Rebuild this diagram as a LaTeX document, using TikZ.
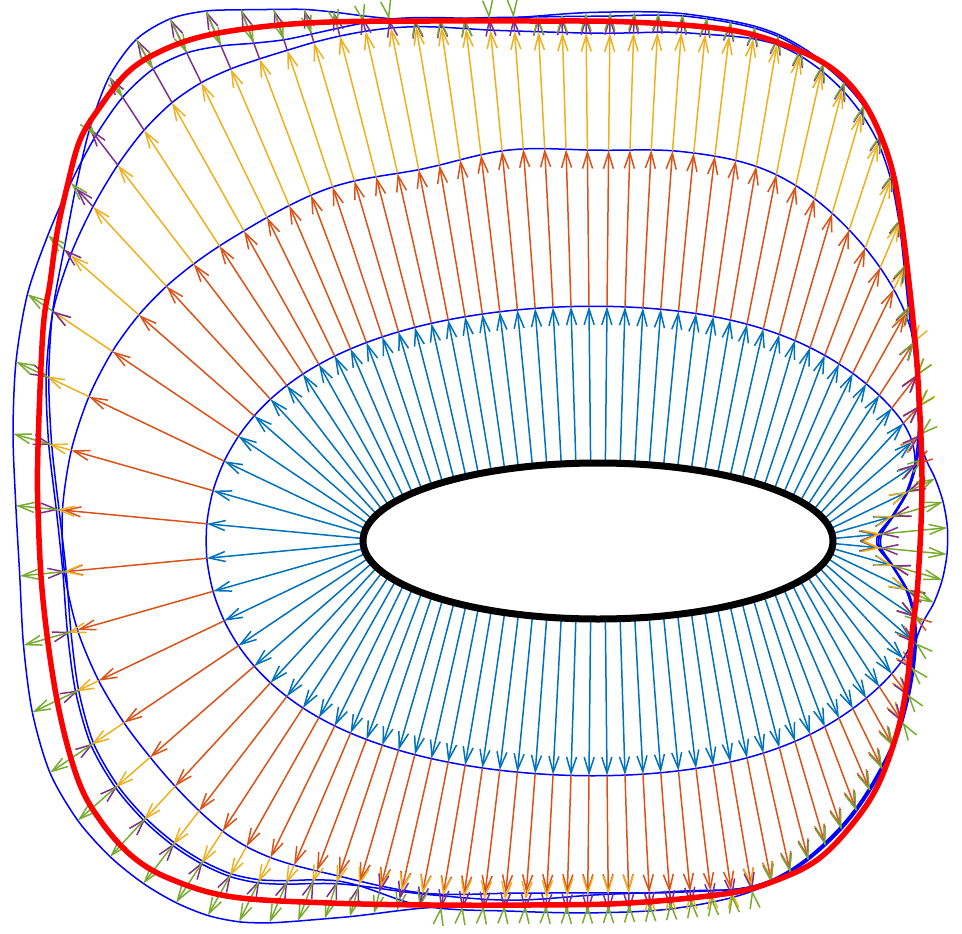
\documentclass[tikz,border=0pt]{standalone}
\usepackage{tikz}
\usetikzlibrary{arrows.meta}
\definecolor{qblue}{HTML}{0072BD}
\definecolor{qorange}{HTML}{D95319}
\definecolor{qyellow}{HTML}{EDB120}
\definecolor{qpurple}{HTML}{7E2F8E}
\definecolor{qgreen}{HTML}{77AC30}
% extra travel of each front beyond the first one, every 15 degrees
\def\tabB{{2,4,78,124,153,159,156,160,153,158,153,153,144,138,148,138,133,121,117,121,125,97,51,1}}
\def\tabC{{4,6,82,216,275,278,273,280,297,302,299,238,146,183,183,146,134,128,119,120,126,98,52,2}}
\def\tabD{{2,7,84,224,282,294,290,293,306,345,371,243,143,180,180,143,146,139,137,136,128,99,53,3}}
\def\tabE{{72,9,86,226,284,296,294,292,306,313,338,268,188,233,228,183,148,133,129,129,128,100,54,4}}
\newcommand\getd[2]{%
  \pgfmathsetmacro\qa{#1[\ka]}\pgfmathsetmacro\qb{#1[\kb]}%
  \pgfmathsetmacro\qc{#1[\kc]}\pgfmathsetmacro\qd{#1[\kd]}%
  \pgfmathsetmacro#2{\dA+cr(\qa,\qb,\qc,\qd,\uu)}}

\begin{document}
\begin{tikzpicture}[x=1pt,y=-1pt,
  declare function={cr(\pa,\pb,\pc,\pd,\pu)=\pb+0.5*\pu*(\pc-\pa+\pu*(2*\pa-5*\pb+4*\pc-\pd+\pu*(3*(\pb-\pc)+\pd-\pa)));},
  front/.style={blue,line width=1.5pt},
  vec/.style={line width=1.5pt,-{Straight Barb[length=16pt,width=10pt]}},
  target/.style={red,line width=5.5pt},
  body/.style={black,line width=7pt}]
\useasboundingbox (0,0) rectangle (962,934);
\foreach \i in {0,...,99}{
  \pgfmathsetmacro\ang{1.8+3.6*\i}
  \pgfmathsetmacro\sv{\ang/15}
  \pgfmathtruncatemacro\kb{floor(\sv)}
  \pgfmathsetmacro\uu{\sv-\kb}
  \pgfmathtruncatemacro\ka{mod(\kb+23,24)}
  \pgfmathtruncatemacro\kc{mod(\kb+1,24)}
  \pgfmathtruncatemacro\kd{mod(\kb+2,24)}
  \pgfmathsetmacro\px{598+235*cos(\ang)}
  \pgfmathsetmacro\py{541-78*sin(\ang)}
  \pgfmathsetmacro\nn{sqrt((0.78*cos(\ang))^2+(2.35*sin(\ang))^2)}
  \pgfmathsetmacro\nx{0.78*cos(\ang)/\nn}
  \pgfmathsetmacro\ny{-2.35*sin(\ang)/\nn}
  \pgfmathsetmacro\wv{atan2(sin(\ang),cos(\ang))}
  \pgfmathsetmacro\ga{max(-9,-(\wv/10)^2)}
  \pgfmathsetmacro\dA{157-40*exp(-(\wv/40)^2)-74*exp(\ga)}
  \getd{\tabB}{\dB}
  \getd{\tabC}{\dC}
  \getd{\tabD}{\dD}
  \getd{\tabE}{\dE}
  \coordinate (s0-\i) at (\px,\py);
  \coordinate (s1-\i) at ({\px+\dA*\nx},{\py+\dA*\ny});
  \coordinate (s2-\i) at ({\px+\dB*\nx},{\py+\dB*\ny});
  \coordinate (s3-\i) at ({\px+\dC*\nx},{\py+\dC*\ny});
  \coordinate (s4-\i) at ({\px+\dD*\nx},{\py+\dD*\ny});
  \coordinate (s5-\i) at ({\px+\dE*\nx},{\py+\dE*\ny});
}
\def\frontA{}\def\frontB{}\def\frontC{}\def\frontD{}\def\frontE{}
\foreach \i in {0,...,99}{
  \xdef\frontA{\frontA(s1-\i)}\xdef\frontB{\frontB(s2-\i)}\xdef\frontC{\frontC(s3-\i)}
  \xdef\frontD{\frontD(s4-\i)}\xdef\frontE{\frontE(s5-\i)}
}
\foreach \f in {\frontA,\frontB,\frontC,\frontD,\frontE}{
  \edef\temp{\noexpand\draw[front] plot[smooth cycle] coordinates {\f};}\temp
}
\foreach \i in {0,...,99}{
  \draw[vec,qblue] (s0-\i) -- (s1-\i);
  \draw[vec,qorange] (s1-\i) -- (s2-\i);
  \draw[vec,qyellow] (s2-\i) -- (s3-\i);
  \draw[vec,qpurple] (s3-\i) -- (s4-\i);
  \draw[vec,qgreen] (s4-\i) -- (s5-\i);
}
\draw[target] plot[smooth cycle,tension=0.6] coordinates {(260,27) (330,22) (430,21) (530,21) (630,22) (730,30) (790,47) (830,67) (857,93) (877,127) (893,173) (903,233) (913,320) (918,380) (922,480) (918,580) (912,633) (907,683) (897,733) (877,787) (850,827) (817,860) (777,880) (730,893) (630,903) (530,905) (430,905) (330,903) (233,897) (173,880) (133,857) (100,820) (77,777) (57,700) (43,600) (38,510) (38,447) (43,330) (50,283) (57,233) (67,187) (80,140) (100,107) (127,73) (157,53) (200,37)};
\draw[body] (598,541) ellipse [x radius=235pt,y radius=78pt];
\end{tikzpicture}
\end{document}
